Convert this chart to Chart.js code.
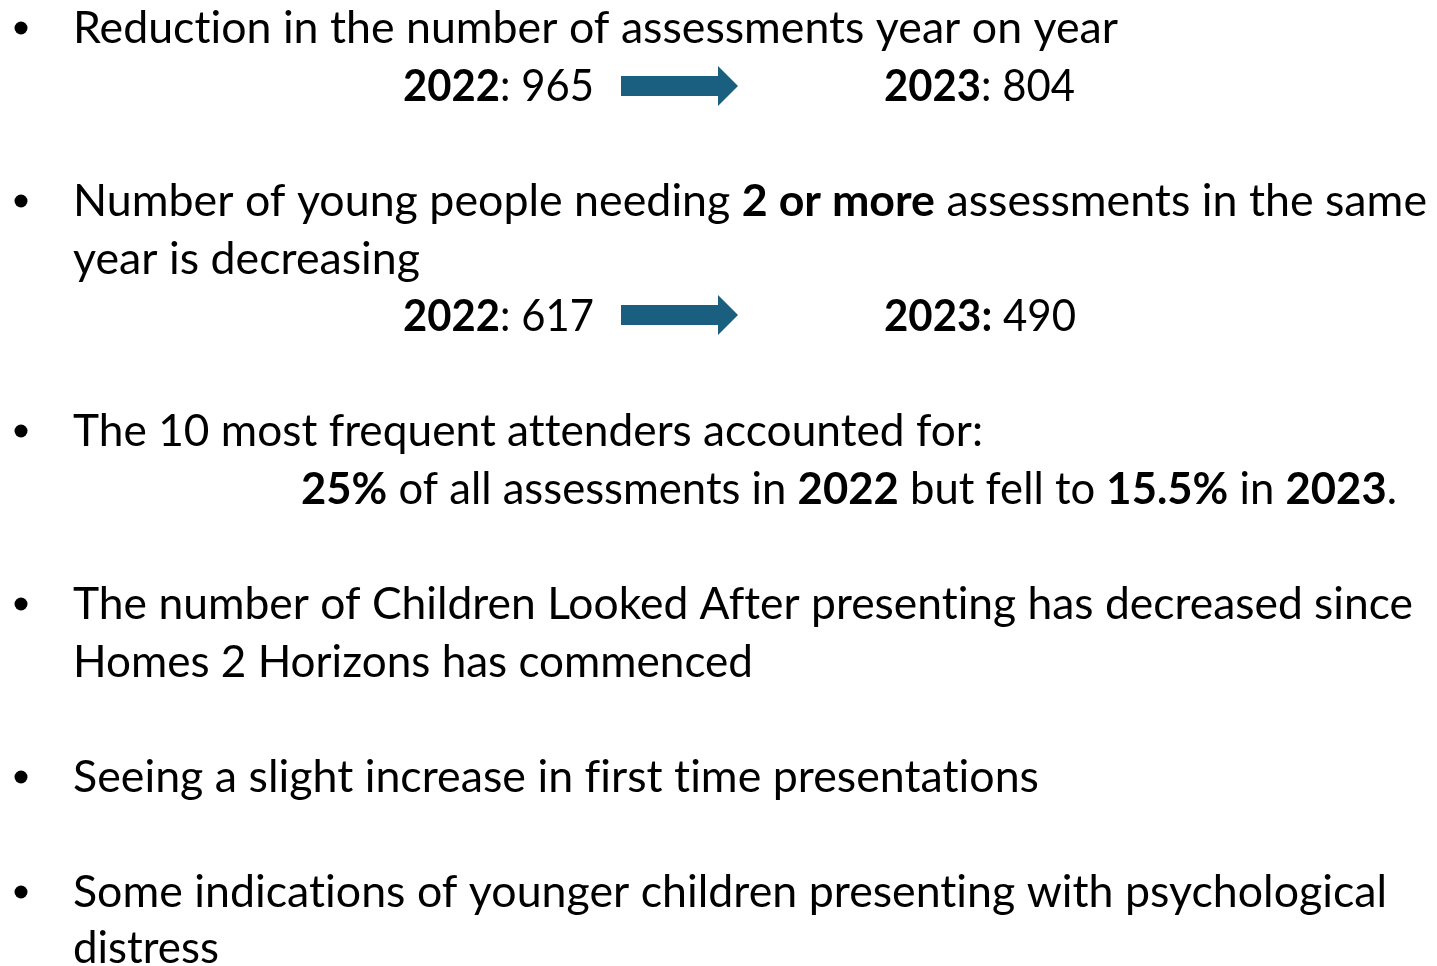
<!DOCTYPE html>
<html>
<head>
<meta charset="utf-8">
<script src="https://cdn.jsdelivr.net/npm/chart.js@4.4.1/dist/chart.umd.min.js"></script>
<style>
  html, body { margin: 0; padding: 0; background: #ffffff; }
  #slide { display: block; font-variant-ligatures: none; }
</style>
</head>
<body>
<canvas id="slide" width="1437" height="966"></canvas>
<script>
// Dados do slide
const years = ['2022', '2023'];
const assessments = [965, 804];
const repeatAssessments = [617, 490];
const frequentShare = ['25%', '15.5%'];

const bulletTexts = [
    'Reduction in the number of assessments year on year',
    'Number of young people needing ',
    '2 or more',
    ' assessments in the same',
    'year is decreasing',
    'The 10 most frequent attenders accounted for:',
    'The number of Children Looked After presenting has decreased since',
    'Homes 2 Horizons has commenced',
    'Seeing a slight increase in first time presentations',
    'Some indications of younger children presenting with psychological',
    'distress'
];

// Linhas do slide: [texto, negrito]
const linhas = [
    { x: 73, y: 43, w: 1045, bullet: true, runs: [[bulletTexts[0], false]] },
    { x: 403, y: 101, w: 191, runs: [[years[0], true], [': ' + assessments[0], false]] },
    { x: 884, y: 101, w: 191, runs: [[years[1], true], [': ' + assessments[1], false]] },
    { x: 73, y: 216, w: 1354, bullet: true, runs: [[bulletTexts[1], false], [bulletTexts[2], true], [bulletTexts[3], false]] },
    { x: 73, y: 274, w: 347, runs: [[bulletTexts[4], false]] },
    { x: 403, y: 331, w: 191, runs: [[years[0], true], [': ' + repeatAssessments[0], false]] },
    { x: 884, y: 331, w: 192, runs: [[years[1] + ':', true], [' ' + repeatAssessments[1], false]] },
    { x: 73, y: 446, w: 910, bullet: true, runs: [[bulletTexts[5], false]] },
    { x: 301, y: 504, w: 1096, runs: [[frequentShare[0], true], [' of all assessments in ', false], [years[0], true],
        [' but fell to ', false], [frequentShare[1], true], [' in ', false], [years[1], true], ['.', false]] },
    { x: 73, y: 619, w: 1340, bullet: true, runs: [[bulletTexts[6], false]] },
    { x: 73, y: 677, w: 680, runs: [[bulletTexts[7], false]] },
    { x: 73, y: 792, w: 966, bullet: true, runs: [[bulletTexts[8], false]] },
    { x: 73, y: 907, w: 1314, bullet: true, runs: [[bulletTexts[9], false]] },
    { x: 73, y: 963, w: 146, runs: [[bulletTexts[10], false]] }
];

// Setas entre 2022 e 2023 (centro vertical)
const setas = [86, 315];

const fonteBase = '44px Lato, "Noto Sans", sans-serif';
const fonteNegrito = 'bold 44px Lato, "Noto Sans", sans-serif';

function desenharSeta(ctx, cy) {
    const x0 = 621, x1 = 738, cabeca = 718;
    ctx.fillStyle = '#1a5e80';
    ctx.beginPath();
    ctx.moveTo(x0, cy - 10);
    ctx.lineTo(cabeca, cy - 10);
    ctx.lineTo(cabeca, cy - 20);
    ctx.lineTo(x1, cy);
    ctx.lineTo(cabeca, cy + 20);
    ctx.lineTo(cabeca, cy + 10);
    ctx.lineTo(x0, cy + 10);
    ctx.closePath();
    ctx.fill();
}

const slidePlugin = {
    id: 'slideTexto',
    afterDraw(chart) {
        const ctx = chart.ctx;
        ctx.save();
        ctx.textBaseline = 'alphabetic';
        ctx.textAlign = 'left';
        // sem ligaduras (tt, fi, ft)
        ctx.letterSpacing = '0.01px';
        linhas.forEach(linha => {
            // Medindo a largura natural da linha
            let total = 0;
            linha.runs.forEach(([txt, negrito]) => {
                ctx.font = negrito ? fonteNegrito : fonteBase;
                total += ctx.measureText(txt).width;
            });
            const sx = linha.w / total;
            ctx.save();
            ctx.translate(linha.x, linha.y);
            ctx.scale(sx, 1);
            ctx.fillStyle = '#000000';
            let pos = 0;
            linha.runs.forEach(([txt, negrito]) => {
                ctx.font = negrito ? fonteNegrito : fonteBase;
                ctx.fillText(txt, pos, 0);
                pos += ctx.measureText(txt).width;
            });
            ctx.restore();
            if (linha.bullet) {
                ctx.fillStyle = '#000000';
                ctx.beginPath();
                ctx.arc(21, linha.y - 15, 6.5, 0, Math.PI * 2);
                ctx.fill();
            }
        });
        setas.forEach(cy => desenharSeta(ctx, cy));
        ctx.restore();
    }
};

const ctx = document.getElementById('slide').getContext('2d');
new Chart(ctx, {
    type: 'scatter',
    data: { datasets: [] },
    options: {
        responsive: false,
        animation: false,
        layout: { padding: 0 },
        plugins: {
            legend: { display: false },
            tooltip: { enabled: false }
        },
        scales: {
            x: { display: false },
            y: { display: false }
        }
    },
    plugins: [slidePlugin]
});
</script>
</body>
</html>
